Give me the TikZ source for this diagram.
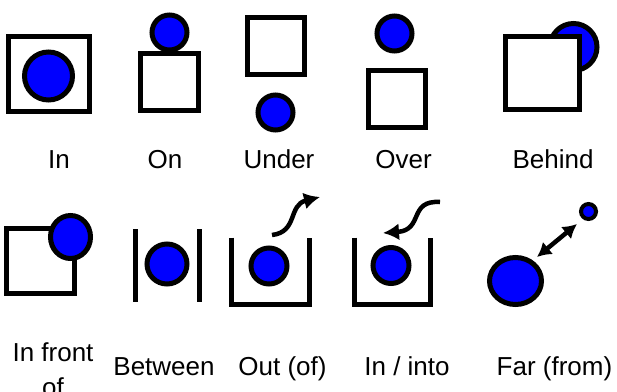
\documentclass[tikz,border=0pt]{standalone}
\usepackage{fontspec}
\setmainfont{Liberation Sans}
\usetikzlibrary{arrows.meta}
\definecolor{ballblue}{RGB}{0,0,255}
\tikzset{
  box/.style={draw=black,line width=5pt,fill=white},
  ball/.style={draw=black,line width=5pt,fill=ballblue},
  smallball/.style={draw=black,line width=4pt,fill=ballblue},
  wall/.style={draw=black,line width=5pt},
  curvy/.style={line width=4.5pt,-{Latex[length=16pt,width=17pt]}},
  twoway/.style={line width=4.5pt,{Latex[length=14pt,width=16pt]}-{Latex[length=14pt,width=16pt]}},
  lbl/.style={font=\fontsize{26}{30}\selectfont,anchor=base,inner sep=0pt}
}
\begin{document}
\begin{tikzpicture}[x=1pt,y=-1pt]
\useasboundingbox (0,0) rectangle (617,391);
% In
\draw[box] (8.5,36.5) rectangle (89.5,111.5);
\draw[ball] (48.5,76) circle[radius=24pt];
\node[lbl] (lIn) at (59,168) {In};
% On
\draw[box] (140.5,53.5) rectangle (198.5,110.5);
\draw[ball] (169.5,32.5) circle[radius=17.5pt];
\node[lbl] (lOn) at (165,168) {On};
% Under
\draw[box] (247.5,17.5) rectangle (304.5,74.5);
\draw[ball] (275.5,112.5) circle[radius=17.5pt];
\node[lbl] (lUnder) at (279,168) {Under};
% Over
\draw[box] (368.5,70.5) rectangle (425.5,127.5);
\draw[ball] (394.5,33.5) circle[radius=17.5pt];
\node[lbl] (lOver) at (403.5,168) {Over};
% Behind
\draw[ball] (573.5,47) circle[radius=23.5pt];
\draw[box] (505.5,36.5) rectangle (579.5,109.5);
\node[lbl] (lBehind) at (553,168) {Behind};
% In front of
\draw[box] (6.5,228.5) rectangle (74.5,293.5);
\draw[ball] (70.5,237) ellipse[x radius=20pt,y radius=21.5pt];
\node[lbl] (lFront) at (53,361) {In front};
\node[lbl] (lOf) at (53,396) {of};
% Between
\draw[wall] (135,229) -- (135,302);
\draw[wall] (199,229) -- (199,302);
\draw[ball] (167,264) circle[radius=20pt];
\node[lbl] (lBetween) at (164,375) {Between};
% Out (of)
\draw[wall] (231.5,237.5) -- (231.5,304) -- (309.5,304) -- (309.5,237.5);
\draw[ball] (269,266) circle[radius=18pt];
\coordinate (outA) at (272,235);
\coordinate (outB) at (320,197);
\draw[curvy] (outA) .. controls (298,232) and (288,205) .. (outB);
\node[lbl] (lOut) at (282.5,375) {Out (of)};
% In / into
\draw[wall] (354,237.5) -- (354,304) -- (430.5,304) -- (430.5,237.5);
\draw[ball] (391,265.5) circle[radius=18pt];
\coordinate (inA) at (440,202);
\coordinate (inB) at (383,233);
\draw[curvy] (inA) .. controls (408,200) and (424,230) .. (inB);
\node[lbl] (lInto) at (407,375) {In / into};
% Far (from)
\draw[ball] (515.5,281) ellipse[x radius=26pt,y radius=23.5pt];
\draw[smallball] (588.5,211.5) circle[radius=7.5pt];
\coordinate (farA) at (537,257);
\coordinate (farB) at (577,224);
\draw[twoway] (farA) -- (farB);
\node[lbl] (lFar) at (554.5,375) {Far (from)};
\end{tikzpicture}
\end{document}
